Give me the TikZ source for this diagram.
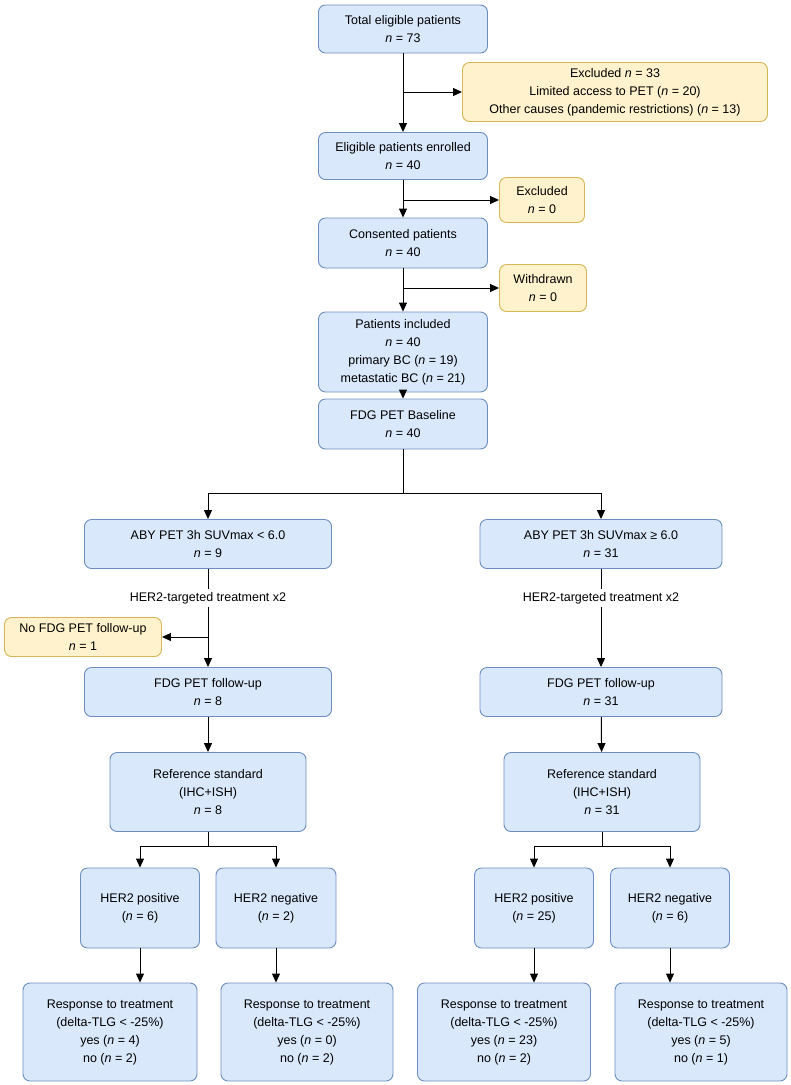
\documentclass[tikz,border=0pt]{standalone}
\usepackage{fontspec}
\setmainfont{Liberation Sans}
\usetikzlibrary{arrows.meta}
\definecolor{bfill}{HTML}{DAE8FC}\definecolor{bdraw}{HTML}{6C8EBF}
\definecolor{yfill}{HTML}{FFF2CC}\definecolor{ydraw}{HTML}{D6B656}
\begin{document}
\begin{tikzpicture}[x=1pt,y=-1pt,
 box/.style={draw=bdraw,fill=bfill,rounded corners=7pt,align=center,inner sep=2pt,line width=0.9pt,font=\fontsize{12.5}{18}\selectfont},
 ybox/.style={box,draw=ydraw,fill=yfill},
 arr/.style={-{Triangle[length=9pt,width=8pt]},line width=1pt},
 ln/.style={line width=1pt}]
\useasboundingbox (0,0) rectangle (791,1085);
\newcommand{\nn}{\textit{n}}
% top column
\node[box,minimum width=169pt,minimum height=48pt] (tot) at (403,29) {Total eligible patients\\\nn{} = 73};
\node[ybox,minimum width=305pt,minimum height=59pt] (ex1) at (615,92) {Excluded \nn{} = 33\\Limited access to PET (\nn{} = 20)\\Other causes (pandemic restrictions) (\nn{} = 13)};
\node[box,minimum width=169pt,minimum height=47pt] (enr) at (403,156) {Eligible patients enrolled\\\nn{} = 40};
\node[ybox,minimum width=85pt,minimum height=45pt] (ex0) at (542,200) {Excluded\\\nn{} = 0};
\node[box,minimum width=169pt,minimum height=50pt] (con) at (403,243) {Consented patients\\\nn{} = 40};
\node[ybox,minimum width=87pt,minimum height=47pt] (wd) at (543,288) {Withdrawn\\\nn{} = 0};
\node[box,minimum width=169pt,minimum height=80pt] (inc) at (403,352) {Patients included\\\nn{} = 40\\primary BC (\nn{} = 19)\\metastatic BC (\nn{} = 21)};
\node[box,minimum width=169pt,minimum height=50pt] (fdg) at (403,424) {FDG PET Baseline\\\nn{} = 40};
\coordinate (c1) at (403,92); \coordinate (c2) at (403,200); \coordinate (c3) at (403,288);
\draw[arr] (tot) -- (enr); \draw[arr] (c1) -- (ex1);
\draw[arr] (enr) -- (con); \draw[arr] (c2) -- (ex0);
\draw[arr] (con) -- (inc); \draw[arr] (c3) -- (wd);
\draw[arr] (inc) -- (fdg);
% branches
\node[box,minimum width=247pt,minimum height=49pt] (abyL) at (208,544) {ABY PET 3h SUVmax < 6.0\\\nn{} = 9};
\node[box,minimum width=242pt,minimum height=49pt] (abyR) at (601,544) {ABY PET 3h SUVmax ≥ 6.0\\\nn{} = 31};
\coordinate (hb) at (403,493);
\draw[arr] (fdg.south) -- (hb) -| (abyL.north);
\draw[arr] (hb) -| (abyR.north);
\node[font=\fontsize{12.5}{15}\selectfont,fill=white,inner sep=3pt] (htL) at (208,598) {HER2-targeted treatment x2};
\node[font=\fontsize{12.5}{15}\selectfont,fill=white,inner sep=3pt] (htR) at (601,598) {HER2-targeted treatment x2};
\node[ybox,minimum width=157pt,minimum height=39pt] (nof) at (83,637) {No FDG PET follow-up\\\nn{} = 1};
\node[box,minimum width=247pt,minimum height=49pt] (fuL) at (208,692) {FDG PET follow-up\\\nn{} = 8};
\node[box,minimum width=242pt,minimum height=49pt] (fuR) at (601,692) {FDG PET follow-up\\\nn{} = 31};
\draw[ln] (abyL) -- (htL); \draw[arr] (htL) -- (fuL);
\draw[ln] (abyR) -- (htR); \draw[arr] (htR) -- (fuR);
\coordinate (c4) at (208,637); \draw[arr] (c4) -- (nof);
\node[box,minimum width=196pt,minimum height=79pt] (refL) at (208,792) {Reference standard\\(IHC+ISH)\\\nn{} = 8};
\node[box,minimum width=196pt,minimum height=79pt] (refR) at (602,792) {Reference standard\\(IHC+ISH)\\\nn{} = 31};
\draw[arr] (fuL) -- (refL); \draw[arr] (fuR) -- (refR);
\node[box,minimum width=119pt,minimum height=80pt] (pL) at (140,908) {HER2 positive\\(\nn{} = 6)};
\node[box,minimum width=120pt,minimum height=80pt] (gL) at (276,908) {HER2 negative\\(\nn{} = 2)};
\node[box,minimum width=119pt,minimum height=80pt] (pR) at (534,908) {HER2 positive\\(\nn{} = 25)};
\node[box,minimum width=119pt,minimum height=80pt] (gR) at (670,908) {HER2 negative\\(\nn{} = 6)};
\coordinate (hL) at (208,846); \coordinate (hR) at (602,846);
\draw[arr] (refL.south) -- (hL) -| (pL.north); \draw[arr] (hL) -| (gL.north);
\draw[arr] (refR.south) -- (hR) -| (pR.north); \draw[arr] (hR) -| (gR.north);
\node[box,minimum width=174pt,minimum height=98pt] (r1) at (110,1032) {Response to treatment\\(delta-TLG < -25\%)\\yes (\nn{} = 4)\\no (\nn{} = 2)};
\node[box,minimum width=172pt,minimum height=98pt] (r2) at (307,1032) {Response to treatment\\(delta-TLG < -25\%)\\yes (\nn{} = 0)\\no (\nn{} = 2)};
\node[box,minimum width=173pt,minimum height=98pt] (r3) at (504,1032) {Response to treatment\\(delta-TLG < -25\%)\\yes (\nn{} = 23)\\no (\nn{} = 2)};
\node[box,minimum width=172pt,minimum height=98pt] (r4) at (701,1032) {Response to treatment\\(delta-TLG < -25\%)\\yes (\nn{} = 5)\\no (\nn{} = 1)};
\draw[arr] (pL.south) -- (pL.south |- r1.north);
\draw[arr] (gL.south) -- (gL.south |- r2.north);
\draw[arr] (pR.south) -- (pR.south |- r3.north);
\draw[arr] (gR.south) -- (gR.south |- r4.north);
\end{tikzpicture}
\end{document}
